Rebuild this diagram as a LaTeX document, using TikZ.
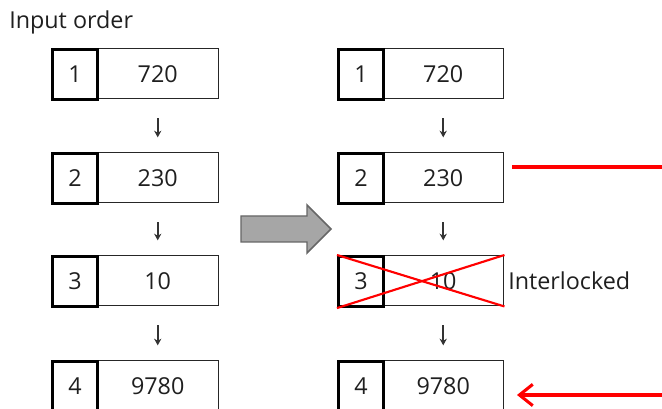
\documentclass[tikz,border=0pt]{standalone}
\usepackage{fontspec}
\setmainfont{Open Sans}
\usetikzlibrary{arrows.meta,calc}
\begin{document}
\begin{tikzpicture}[x=0.75pt,y=-0.75pt,
  txt/.style={font=\fontsize{17.5}{20}\selectfont,text=black!88},
  valbox/.style={txt,draw=black!85,line width=1.1pt,minimum width=91.5pt,minimum height=37.5pt,inner sep=0pt,anchor=north west},
  numbox/.style={txt,draw=black,line width=2.3pt,minimum width=33.75pt,minimum height=37.5pt,inner sep=0pt,anchor=north west},
  down/.style={draw=black!80,line width=1.2pt,-{Stealth[length=5pt,width=5.5pt]},shorten <=14pt,shorten >=11pt},
  redline/.style={draw=red,line width=2.3pt},
  cross/.style={draw=red,line width=1.6pt}]
\useasboundingbox (0,0) rectangle (662,409);
\clip (0,0) rectangle (662,409);
\node[txt,anchor=base west,inner sep=0pt] (title) at (9,29) {Input order};
% left column
\foreach \i/\y/\v in {1/48/720,2/152/230,3/255/10,4/360/9780}{
  \node[valbox] (lv\i) at (96,\y) {\v};
  \node[numbox] (ln\i) at (51,\y) {\i};
}
% right column
\foreach \i/\y/\v in {1/48/720,2/152/230,3/255/10,4/360/9780}{
  \node[valbox,minimum width=90.75pt] (rv\i) at (382,\y) {\v};
  \node[numbox] (rn\i) at (337,\y) {\i};
}
\foreach \a/\b in {1/2,2/3,3/4}{
  \draw[down] (lv\a.south) -- (lv\b.north);
  \draw[down] (rv\a.south) -- (rv\b.north);
}
% gray block arrow
\draw[draw=black!60,fill=black!35,line width=1.1pt,line join=miter]
  (241,216) -- (307,216) -- (307,205) -- (331,229) -- (307,253) -- (307,242) -- (241,242) -- cycle;
% red cross on row 3
\draw[cross] (rn3.north west) -- (rv3.south east);
\draw[cross] (rn3.south west) -- (rv3.north east);
\node[txt,anchor=base west,inner sep=0pt] (inter) at (508,290) {Interlocked};
% red lines
\coordinate (c1a) at (512,167);
\coordinate (c1b) at (662,167);
\draw[redline] (c1a) -- (c1b);
\coordinate (c2a) at (664,395);
\coordinate (c2b) at (517,395);
\draw[redline,-{Straight Barb[length=10pt,width=16pt,line width=2.3pt]}] (c2a) -- (c2b);
\end{tikzpicture}
\end{document}
